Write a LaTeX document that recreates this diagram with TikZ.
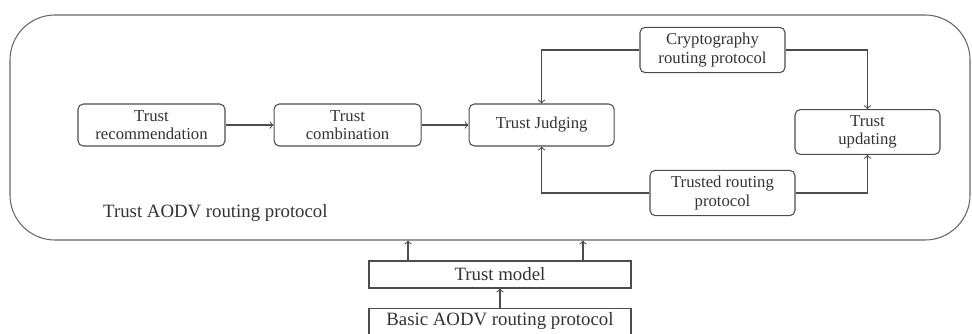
\documentclass[tikz,border=0pt]{standalone}
\usepackage{fontspec}
\setmainfont{Liberation Serif}
\usetikzlibrary{positioning,calc}

\begin{document}
\begin{tikzpicture}[
      node distance=9mm and 9.6mm,
      box/.style={rectangle, draw=black!70, semithick, align=center, text=black!80, minimum width=2.94cm, minimum height=8.4mm, rounded corners=3pt, font=\fontsize{9.5}{10.5}\selectfont},
      layer/.style={rectangle, draw=black!70, semithick, align=center, text=black!80, minimum width=5.24cm, inner sep=0pt, font=\fontsize{10.7}{12}\selectfont},
      arrow/.style={->, semithick, draw=black!70, >=to},
      frame/.style={draw=black!60, semithick, rounded corners=9mm, inner sep=0pt}
    ]
    \useasboundingbox (0,0) rectangle (19.44,6.66);

    % ============ OUTER FRAME ============
    \node[frame, minimum width=19.2cm, minimum height=4.5cm] (aodv) at (9.8,4.11) {};
    \node[anchor=west, text=black!80, font=\fontsize{10.7}{12}\selectfont] (aodvlabel) at (1.94,2.4) {Trust AODV routing protocol};

    % ============ TRUST CHAIN ============
    \node[box] (rec) at (3.03,4.16) {Trust\\recommendation};
    \node[box, right=0.96cm of rec] (comb) {Trust\\combination};
    \node[box, right=0.94cm of comb, minimum width=2.9cm] (judge) {Trust Judging};

    \draw[arrow] (rec) -- (comb);
    \draw[arrow] (comb) -- (judge);

    % ============ ROUTING PROTOCOLS ============
    \node[box, minimum width=2.9cm, minimum height=8mm] (crypto) at (14.25,5.66) {Cryptography\\routing protocol};
    \node[box, minimum width=2.9cm] (trusted) at (14.45,2.8) {Trusted routing\\protocol};
    \node[box, minimum width=2.9cm, minimum height=8mm] (update) at (17.35,4.02) {Trust\\updating};

    \draw[arrow] (crypto.west) -| (judge.north);
    \draw[arrow] (crypto.east) -| (update.north);
    \draw[arrow] (trusted.west) -| (judge.south);
    \draw[arrow] (trusted.east) -| (update.south);

    % ============ LOWER LAYERS ============
    \node[layer, minimum height=5.4mm] (model) at (10,1.17) {Trust model};
    % bottom box runs off the page
    \node[layer, anchor=north, text height=0.33cm, text depth=0.5cm] (basic) at (10,0.5) {Basic AODV routing protocol};

    \draw[arrow] (basic) -- (model);
    \draw[arrow] ([xshift=-1.84cm]model.north) -- ([xshift=-1.84cm]model.north |- aodv.south);
    \draw[arrow] ([xshift=1.66cm]model.north) -- ([xshift=1.66cm]model.north |- aodv.south);

  \end{tikzpicture}
\end{document}
